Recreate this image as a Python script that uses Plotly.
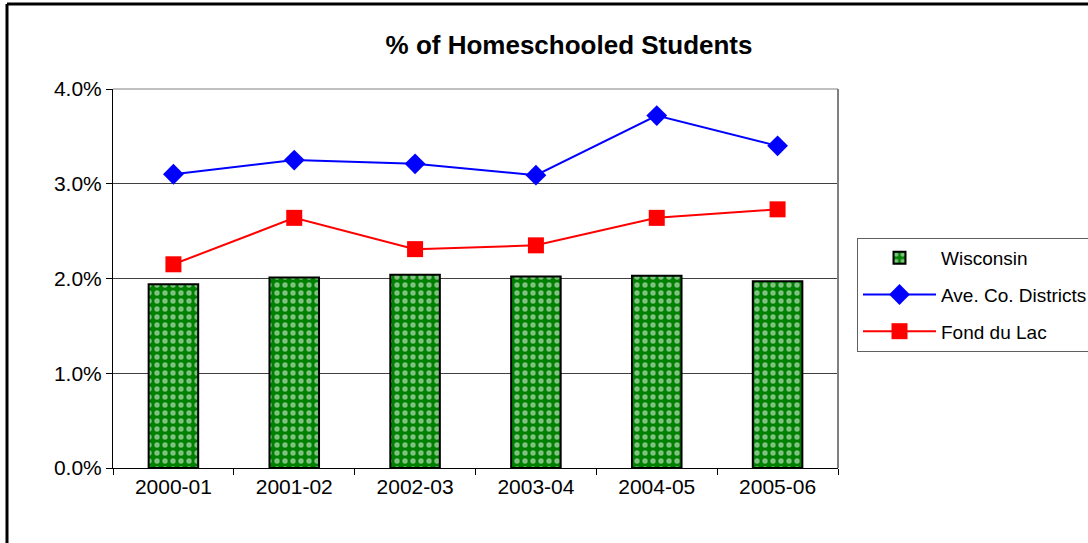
import plotly.graph_objects as go

years = ["2000-01", "2001-02", "2002-03", "2003-04", "2004-05", "2005-06"]
wisconsin = [0.0194, 0.0201, 0.0204, 0.0202, 0.0203, 0.0197]
ave_co = [0.0310, 0.0325, 0.0321, 0.0309, 0.0372, 0.0340]
fond_du_lac = [0.0215, 0.0264, 0.0231, 0.0235, 0.0264, 0.0273]
y_ticks = [0, 0.01, 0.02, 0.03, 0.04]

fig = go.Figure()
fig.add_trace(go.Bar(
    x=years, y=wisconsin, name="Wisconsin", legendgroup="a",
    marker=dict(color="#008000", line=dict(color="black", width=2),
                pattern=dict(shape=".", fgcolor="#ffffff", bgcolor="#008000",
                             size=8, solidity=0.35)),
))
fig.add_trace(go.Scatter(
    x=years, y=ave_co, name="Ave. Co. Districts", legendgroup="b",
    mode="lines+markers", line=dict(color="#0000ff", width=2),
    marker=dict(symbol="diamond", size=16, color="#0000ff"),
))
fig.add_trace(go.Scatter(
    x=years, y=fond_du_lac, name="Fond du Lac", legendgroup="c",
    mode="lines+markers", line=dict(color="#ff0000", width=2),
    marker=dict(symbol="square", size=16, color="#ff0000"),
))

fig.update_layout(
    width=1088, height=543,
    margin=dict(l=113, r=250, t=89, b=75, autoexpand=False),
    paper_bgcolor="white", plot_bgcolor="white",
    font=dict(family="Arial, Liberation Sans, sans-serif", size=20, color="black"),
    title=dict(text="<b>% of Homeschooled Students</b>", x=0.523, xanchor="center",
               y=0.917, yanchor="middle", font=dict(size=26)),
    bargap=0.59,
    showlegend=True,
    legend=dict(x=(857-113)/725, xanchor="left", y=0.607, yanchor="top",
                bordercolor="#606060", borderwidth=1, bgcolor="white",
                font=dict(size=19), tracegroupgap=9, traceorder="grouped",
                itemwidth=73),
    xaxis=dict(type="category", showline=True, linecolor="black", linewidth=1,
               ticks="outside", tickson="boundaries", ticklen=6, tickcolor="black",
               showgrid=False, tickfont=dict(size=21)),
    yaxis=dict(range=[0, 0.04], tickvals=y_ticks, tickformat=".1%",
               showline=True, linecolor="black", linewidth=1,
               ticks="outside", ticklen=6, tickcolor="black",
               showgrid=True, gridcolor="#404040", gridwidth=1,
               zeroline=False, tickfont=dict(size=21)),
    shapes=[
        dict(type="line", xref="paper", yref="paper", x0=0, x1=1, y0=1, y1=1,
             line=dict(color="#808080", width=1)),
        dict(type="line", xref="paper", yref="paper", x0=1, x1=1, y0=0, y1=1,
             line=dict(color="#808080", width=2)),
        dict(type="line", xref="paper", yref="paper", x0=(7-113)/725, x1=(1088-113)/725,
             y0=(468-4)/379, y1=(468-4)/379, line=dict(color="black", width=3)),
        dict(type="line", xref="paper", yref="paper", x0=(7-113)/725, x1=(7-113)/725,
             y0=(468-4)/379, y1=(468-543)/379, line=dict(color="black", width=3)),
    ],
)

fig.write_html("out.html", config={"displayModeBar": False},
               post_script="document.body.style.margin='0px';")
